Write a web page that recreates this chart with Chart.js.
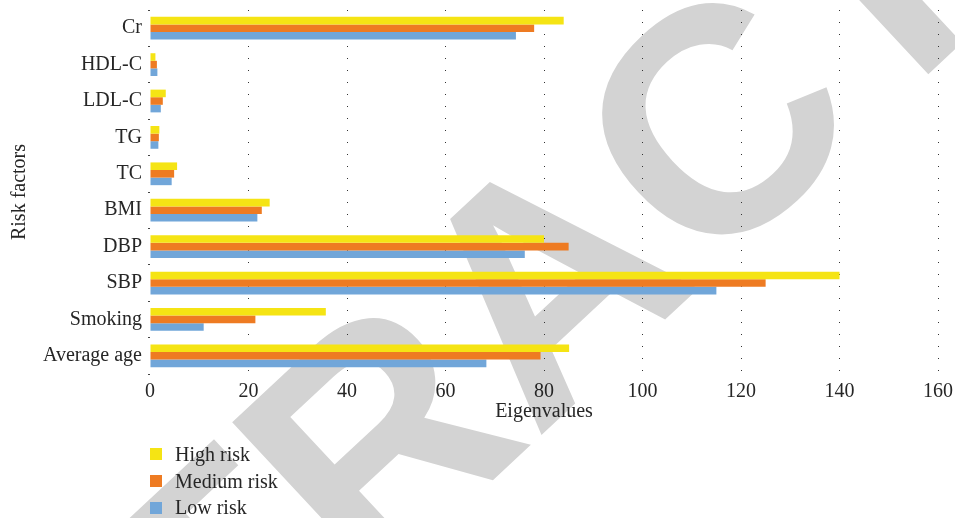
<!DOCTYPE html>
<html>
<head>
<meta charset="utf-8">
<script src="https://cdn.jsdelivr.net/npm/chart.js@4/dist/chart.umd.min.js"></script>
<style>
  html, body { margin: 0; padding: 0; background: #ffffff; }
  .wrap { position: relative; width: 955px; height: 518px; }
  #legend { position: absolute; left: 150px; top: 441px; font-family: "Liberation Serif", serif; font-size: 20px; color: #262626; }
  #legend .item { display: flex; align-items: center; height: 26.7px; }
  #legend .box { width: 12px; height: 12px; margin-right: 13px; }
</style>
</head>
<body>
<div class="wrap">
  <canvas id="riskChart" width="955" height="518"></canvas>
  <div id="legend"></div>
</div>
<script>
// values
const factors = ['Cr', 'HDL-C', 'LDL-C', 'TG', 'TC', 'BMI', 'DBP', 'SBP', 'Smoking', 'Average age'];
const highRisk = [84, 1.1, 3.2, 1.9, 5.5, 24.3, 80, 140, 35.7, 85.1];
const mediumRisk = [78, 1.4, 2.6, 1.8, 4.9, 22.7, 85, 125, 21.4, 79.3];
const lowRisk = [74.3, 1.5, 2.2, 1.7, 4.4, 21.8, 76.1, 115, 10.9, 68.3];
const xTicks = [0, 20, 40, 60, 80, 100, 120, 140, 160];

const seriesNames = ['High risk', 'Medium risk', 'Low risk'];
const seriesColors = ['#f5e414', '#ee7b22', '#71a6d9'];

const serif = 'Liberation Serif';
const textColor = '#262626';

// grey "RETRACTED" stamp drawn under everything else,
// placed so the middle letter (A) sits where it does in the picture
const watermark = {
  id: 'watermark',
  beforeDraw(chart) {
    const ctx = chart.ctx;
    const word = 'RETRACTED';
    ctx.save();
    ctx.translate(560, 297);
    ctx.rotate(-43 * Math.PI / 180);
    ctx.font = 'bold 320px "Liberation Sans"';
    ctx.fillStyle = '#d3d3d3';
    ctx.textAlign = 'left';
    ctx.textBaseline = 'middle';
    const before = ctx.measureText(word.slice(0, 4)).width;
    const half = ctx.measureText('A').width / 2;
    ctx.fillText(word, -(before + half), 0);
    ctx.restore();
  }
};

const chart = new Chart(document.getElementById('riskChart'), {
  type: 'bar',
  data: {
    labels: factors,
    datasets: [
      { label: seriesNames[0], data: highRisk, backgroundColor: seriesColors[0] },
      { label: seriesNames[1], data: mediumRisk, backgroundColor: seriesColors[1] },
      { label: seriesNames[2], data: lowRisk, backgroundColor: seriesColors[2] },
    ],
  },
  options: {
    indexAxis: 'y',
    responsive: false,
    animation: false,
    categoryPercentage: 0.625,
    barPercentage: 1,
    layout: { padding: { left: 0, right: 17, top: 10, bottom: 90 } },
    plugins: {
      legend: { display: false },
      tooltip: { enabled: false },
    },
    scales: {
      x: {
        min: 0,
        max: 160,
        afterBuildTicks: (scale) => { scale.ticks = xTicks.map(v => ({ value: v })); },
        afterFit: (scale) => {
          scale.height = 54;
          scale.paddingLeft = 0;
          scale.paddingRight = 0;
        },
        grid: {
          color: (c) => (c.tick && c.tick.value === 0 ? 'rgba(0,0,0,0)' : '#333'),
          lineWidth: 1,
          drawTicks: false,
        },
        border: { display: false, dash: [1, 11] },
        ticks: { padding: 6, color: textColor, font: { family: serif, size: 20 } },
        title: {
          display: true,
          text: 'Eigenvalues',
          color: textColor,
          font: { family: serif, size: 20 },
          padding: { top: 0, bottom: 4 },
        },
      },
      y: {
        afterFit: (scale) => {
          scale.width = 150;
          scale.paddingTop = 0;
          scale.paddingBottom = 0;
        },
        border: { display: false },
        grid: { drawOnChartArea: false, tickLength: 2, color: '#444' },
        ticks: { padding: 6, color: textColor, font: { family: serif, size: 20 } },
        title: {
          display: true,
          text: 'Risk factors',
          color: textColor,
          font: { family: serif, size: 20 },
          padding: { top: 8, bottom: 4 },
        },
      },
    },
  },
  plugins: [watermark],
});

// legend stacked under the plot, built from the datasets
const legendEl = document.getElementById('legend');
chart.data.datasets.forEach(ds => {
  const row = document.createElement('div');
  row.className = 'item';
  row.innerHTML = '<span class="box" style="background:' + ds.backgroundColor + '"></span>' + ds.label;
  legendEl.appendChild(row);
});
</script>
</body>
</html>
